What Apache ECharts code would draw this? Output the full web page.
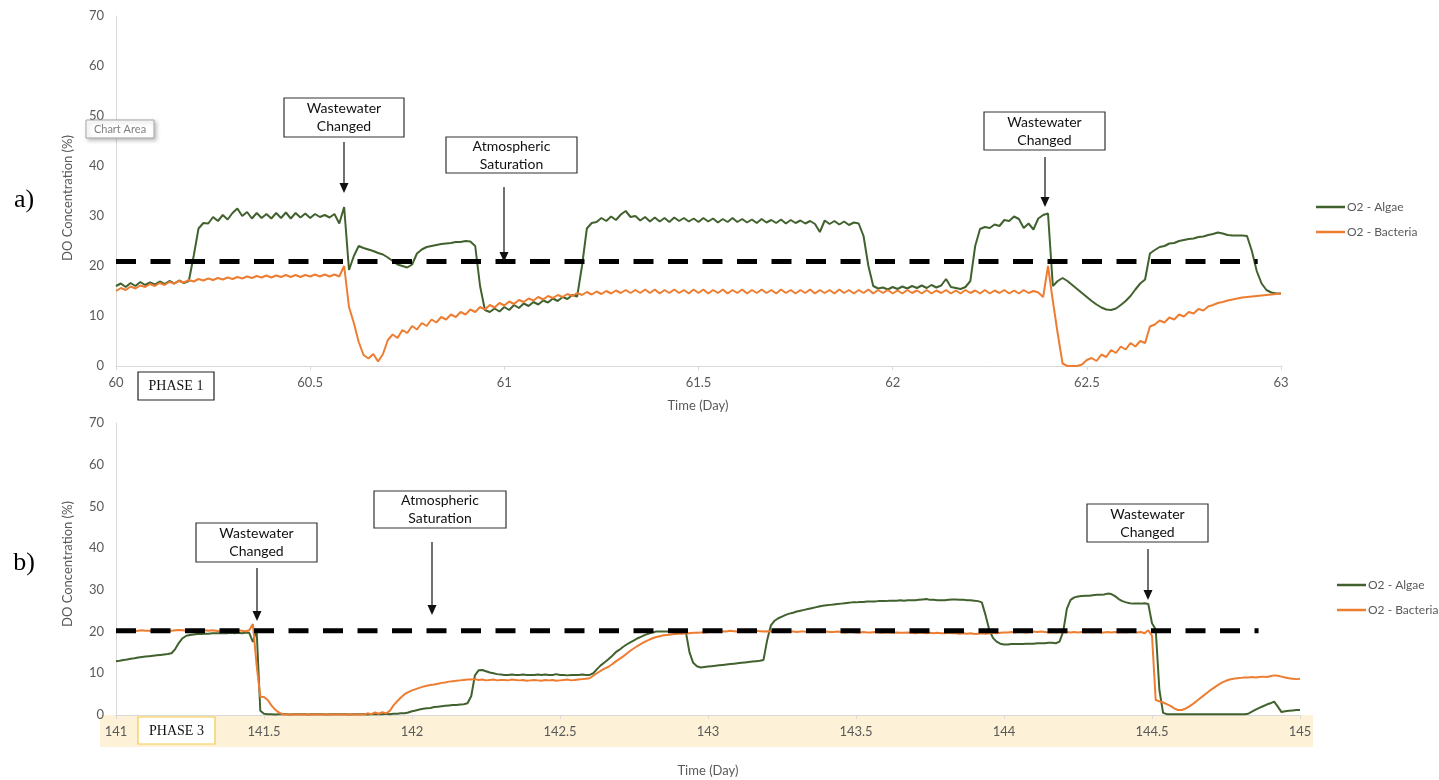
<!DOCTYPE html>
<html>
<head>
<meta charset="utf-8">
<title>DO Concentration – Phase 1 and Phase 3</title>
<script src="https://cdn.jsdelivr.net/npm/echarts@6/dist/echarts.min.js"></script>
<style>
  html, body { margin: 0; padding: 0; background: #ffffff; }
  #chart { width: 1439px; height: 780px; }
</style>
</head>
<body>
<div id="chart"></div>
<script>
// Logger samples every 18 minutes (1/80 day).
const SAMPLE_STEP = 1 / 80;
const PHASE1_START = 60;
const PHASE3_START = 141;

// Phase 1 (days 60–63), DO concentration (%)
const algaePhase1 = [
  16.0, 16.5, 15.8, 16.6, 16.0, 16.8, 16.2, 16.7, 16.3, 16.9, 16.4, 17.0, 16.5, 17.1, 16.6, 17.0,
  22.0, 27.5, 28.6, 28.5,
  29.8, 29.0, 30.2, 29.3, 30.6, 31.5, 30.0, 30.8, 29.5, 30.6, 29.6, 30.4, 29.5, 30.6, 29.6, 30.7,
  29.5, 30.6, 29.7, 30.5, 29.6, 30.4, 29.8, 30.2, 29.7, 30.4, 28.5, 31.8,
  19.2, 22.0, 24.0, 23.6, 23.3, 23.0, 22.6, 22.3, 21.7, 21.0, 20.3, 20.0, 19.7, 20.3,
  22.5, 23.3, 23.8, 24.0, 24.2, 24.4, 24.5, 24.6, 24.8, 24.8, 25.0, 24.9, 24.0,
  16.0, 11.2, 10.8, 11.5, 10.9, 11.8, 11.2, 12.2, 11.6, 12.5, 12.0, 12.8, 12.3, 13.1, 12.7, 13.5,
  13.0, 13.8, 13.4, 14.2, 13.9,
  20.0, 27.5, 28.6, 28.8, 29.6, 29.0, 29.9, 29.2, 30.3, 31.0, 29.8, 30.0, 29.1, 29.8, 28.9, 29.7, 28.9,
  29.6, 28.8, 29.7, 29.0, 29.6, 28.9, 29.5, 28.8, 29.6, 28.9, 29.5, 28.7, 29.4, 28.8, 29.6, 28.8,
  29.4, 28.7, 29.3, 28.6, 29.4, 28.7, 29.2, 28.6, 29.3, 28.5, 29.2, 28.6, 29.1, 28.5, 29.0, 28.4,
  26.8, 29.1, 28.4, 29.0, 28.3, 28.9, 28.2, 28.7, 28.5,
  26.0, 20.0,
  16.0, 15.5, 15.7, 15.3, 15.8, 15.4, 15.9, 15.5, 16.0, 15.6, 16.1, 15.6, 16.2, 15.7, 16.1, 17.4, 15.8,
  15.6, 15.4, 15.8,
  17.0, 24.0, 27.4, 27.8, 27.6, 28.3, 28.0, 29.2, 29.0, 29.9, 29.4, 27.6, 28.5, 27.3, 29.5, 30.2, 30.5,
  16.0, 17.0, 17.6, 17.0, 16.2, 15.4, 14.6, 13.8, 13.0, 12.3, 11.7, 11.3, 11.2, 11.5, 12.2, 13.0,
  14.0, 15.3, 16.5, 17.3,
  22.5, 23.2, 23.8, 24.0, 24.5, 24.6, 25.0, 25.2, 25.4, 25.5, 25.8, 25.9, 26.2, 26.4, 26.7, 26.5,
  26.2, 26.1, 26.1, 26.1, 26.0,
  23.0, 19.0, 16.5, 15.2, 14.7, 14.5, 14.5
];

const bacteriaPhase1 = [
  15.0, 15.6, 15.2, 15.9, 15.5, 16.1, 15.8, 16.4, 16.0, 16.6, 16.2, 16.8, 16.5, 17.0, 16.7, 17.2,
  16.9, 17.4, 17.1, 17.5, 17.2, 17.6, 17.3, 17.7, 17.4, 17.8, 17.5, 17.9, 17.6, 18.0, 17.7, 18.1,
  17.7, 18.1, 17.8, 18.2, 17.8, 18.2, 17.8, 18.2, 17.9, 18.3, 17.9, 18.3, 17.9, 18.3, 17.9,
  20.0, 11.8, 8.6, 4.8, 2.2, 1.5, 2.4, 0.9, 2.4, 5.2, 6.3, 5.6, 7.2, 6.6, 8.0, 7.3,
  8.6, 8.0, 9.3, 8.7, 9.8, 9.3, 10.3, 9.8, 10.8, 10.3, 11.3, 10.8, 11.8, 11.3, 12.2, 11.7,
  12.6, 12.1, 12.9, 12.4, 13.2, 12.8, 13.5, 13.1, 13.8, 13.3, 14.0, 13.6, 14.2, 13.8, 14.4, 14.0, 14.6,
  14.2, 14.8, 14.3, 14.9, 14.4, 15.0, 14.5, 15.1, 14.6, 15.2, 14.6, 15.2, 14.6, 15.3,
  14.6, 15.3, 14.5, 15.2, 14.6, 15.3, 14.6, 15.2, 14.5, 15.3,
  14.6, 15.3, 14.5, 15.2, 14.6, 15.3, 14.5, 15.2, 14.6, 15.3,
  14.5, 15.2, 14.6, 15.3, 14.6, 15.2, 14.5, 15.3, 14.6, 15.2,
  14.5, 15.2, 14.6, 15.3, 14.5, 15.2, 14.6, 15.2, 14.5, 15.3,
  14.6, 15.2, 14.5, 15.2, 14.6, 15.3, 14.5, 15.2, 14.6, 15.2,
  14.5, 15.1, 14.5, 15.2, 14.6, 15.1, 14.5, 15.2, 14.5, 15.1,
  14.6, 15.2, 14.5, 15.1, 14.5, 15.2, 14.6, 15.1, 14.5, 15.2,
  14.5, 15.1, 14.6, 15.2, 14.5, 15.1, 14.5, 15.2, 14.6, 15.0,
  14.7,
  13.8, 20.0, 13.0, 6.5, 0.5, 0.0, 0.0, 0.0, 0.3, 1.2, 1.6, 1.0, 2.3, 1.8, 3.2, 2.6,
  3.9, 3.3, 4.6, 3.9, 5.0, 4.6,
  7.9, 8.3, 9.1, 8.7, 9.7, 9.3, 10.3, 9.9, 10.8, 10.5, 11.4, 11.1, 11.9, 12.2, 12.6, 12.8,
  13.1, 13.3, 13.5, 13.7, 13.8, 13.9, 14.0, 14.1, 14.2, 14.3, 14.4, 14.5
];

// Phase 3 (days 141–145), DO concentration (%)
const algaePhase3 = [
  12.9, 13.0, 13.2, 13.3, 13.5, 13.6, 13.8, 13.9, 14.0, 14.1, 14.2, 14.3, 14.4, 14.5, 14.6, 14.8,
  15.8, 17.3, 18.4, 19.0, 19.2, 19.3, 19.4, 19.4, 19.5, 19.5, 19.6, 19.6, 19.6, 19.6, 19.6, 19.7,
  19.6, 19.7, 19.6, 19.7, 19.7,
  17.5, 20.5, 1.0, 0.3,
  0.2, 0.2, 0.1, 0.2, 0.2, 0.2, 0.1, 0.2, 0.2, 0.2,
  0.2, 0.1, 0.2, 0.2, 0.2, 0.2, 0.1, 0.2, 0.2, 0.2,
  0.2, 0.2, 0.1, 0.2, 0.2, 0.2, 0.2, 0.1, 0.2, 0.2,
  0.2, 0.2, 0.3, 0.2, 0.3, 0.3, 0.4, 0.4,
  0.6, 0.9, 1.1, 1.3, 1.5, 1.6, 1.7, 1.9, 2.0, 2.1, 2.2, 2.3, 2.4, 2.4, 2.5, 2.6, 2.8,
  4.5, 9.5, 10.7, 10.8, 10.5, 10.2, 10.0, 9.8, 9.7,
  9.6, 9.6, 9.7, 9.6, 9.6, 9.7, 9.6, 9.6, 9.6, 9.7, 9.6, 9.7, 9.6, 9.6, 9.8, 9.6,
  9.6, 9.5, 9.6, 9.6, 9.6, 9.7, 9.6, 9.6,
  10.0, 11.0, 11.9, 12.6, 13.3, 14.1, 15.0, 15.6, 16.3, 16.9, 17.4, 17.9, 18.4, 18.8, 19.2, 19.5,
  19.8, 20.0, 20.0, 20.0, 20.0, 20.0, 20.1, 20.1, 20.0, 20.0,
  15.0, 12.5, 11.7, 11.4, 11.5, 11.6, 11.7, 11.8, 11.9, 12.0, 12.1, 12.2, 12.3, 12.4, 12.5, 12.6,
  12.7, 12.8, 12.9, 13.0, 13.2,
  18.0, 21.5, 22.6, 23.2, 23.6, 24.0, 24.3, 24.5, 24.8, 25.0,
  25.2, 25.4, 25.6, 25.8, 26.0, 26.2, 26.3, 26.4, 26.5, 26.6,
  26.7, 26.8, 26.9, 27.0, 27.0, 27.1, 27.1, 27.2, 27.2, 27.2,
  27.3, 27.3, 27.3, 27.4, 27.4, 27.4, 27.5, 27.4, 27.5, 27.5,
  27.5, 27.6, 27.7, 27.8, 27.6, 27.6, 27.5, 27.5, 27.5, 27.6,
  27.7, 27.7, 27.6, 27.6, 27.5, 27.5, 27.4, 27.3, 27.0,
  24.0, 20.5, 18.5, 17.6, 17.1, 16.9, 16.9, 17.0, 17.0, 17.0, 17.0, 17.1, 17.1, 17.1, 17.2, 17.2,
  17.2, 17.3, 17.3, 17.2, 17.6,
  20.0, 25.5, 27.6, 28.2, 28.4, 28.5, 28.6, 28.6, 28.7, 28.8,
  28.8, 28.9, 29.1, 29.0, 28.5, 27.8, 27.3, 27.0, 26.8, 26.7,
  26.7, 26.7, 26.8, 26.6, 22.0, 20.5, 6.0, 0.5,
  0.2, 0.2, 0.2, 0.2, 0.2, 0.2, 0.2, 0.2, 0.2, 0.2, 0.2,
  0.2, 0.2, 0.2, 0.2, 0.2, 0.2, 0.2, 0.2, 0.2, 0.2, 0.2,
  0.3, 0.8, 1.3, 1.7, 2.1, 2.5, 2.8, 3.2, 2.0, 0.7, 0.9, 1.0, 1.1, 1.2, 1.2
];

const bacteriaPhase3 = [
  20.2, 20.1, 20.2, 20.3, 20.2, 20.1, 20.2, 20.3, 20.2, 20.2,
  20.1, 20.2, 20.3, 20.2, 20.1, 20.2, 20.3, 20.4, 20.3, 20.2,
  20.1, 20.2, 20.3, 20.4, 20.3, 20.2, 20.3, 20.2, 20.1, 20.2,
  20.3, 20.2, 20.2, 20.3, 20.2, 20.1, 20.3,
  21.8, 12.0, 4.4, 4.3, 3.6, 2.3, 1.3, 0.6, 0.2,
  0.1, 0.1, 0.1, 0.1, 0.1, 0.1, 0.1, 0.1, 0.1, 0.1, 0.1,
  0.1, 0.1, 0.1, 0.1, 0.1, 0.1, 0.1, 0.1, 0.1, 0.1, 0.1,
  0.4, 0.2, 0.6, 0.3, 0.7, 0.4,
  1.0, 2.3, 3.3, 4.2, 5.0, 5.5, 5.9, 6.2, 6.5, 6.8, 7.0, 7.2, 7.3, 7.5, 7.7, 7.8,
  8.0, 8.1, 8.2, 8.3, 8.4, 8.5, 8.5,
  8.6, 8.4, 8.5, 8.3, 8.4, 8.5, 8.3, 8.4, 8.4, 8.3, 8.5, 8.4, 8.3, 8.4, 8.2, 8.3,
  8.4, 8.3, 8.2, 8.4, 8.3, 8.4, 8.2, 8.3, 8.4, 8.5, 8.3, 8.4, 8.5, 8.6, 8.7, 8.8,
  9.4, 10.0, 10.6, 11.1, 11.5, 12.1, 12.8, 13.4, 14.0, 14.7, 15.4, 16.0, 16.6, 17.1, 17.6, 18.0,
  18.4, 18.7, 18.9, 19.1, 19.2, 19.3, 19.4, 19.5, 19.5, 19.6, 19.6, 19.7, 19.7, 19.8, 19.8, 19.9,
  19.9, 20.0, 20.0, 20.1, 20.0, 20.2, 20.1, 20.0, 20.2, 20.3,
  20.2, 20.1, 20.2, 20.1, 20.0, 20.1, 20.0, 20.0, 20.1, 20.0,
  20.0, 20.1, 20.0, 19.9, 20.0, 20.0, 19.9, 20.0, 20.1, 20.0,
  19.9, 20.0, 19.9, 19.9, 20.0, 19.9, 19.8, 19.9, 19.9, 19.8,
  19.8, 19.9, 19.8, 19.8, 19.9, 19.8, 19.7, 19.8, 19.8, 19.7,
  19.8, 19.7, 19.7, 19.8, 19.7, 19.6, 19.7, 19.7, 19.6, 19.7,
  19.6, 19.7, 19.6, 19.6, 19.7, 19.6, 19.6, 19.5, 19.6, 19.5,
  19.6, 19.4, 19.5, 19.6, 19.5, 19.6, 19.7, 19.6, 19.7, 19.8,
  19.8, 19.9, 19.8, 19.9, 19.9, 19.8, 19.9, 20.0, 19.9, 20.0,
  19.9, 19.8, 19.9, 19.8, 19.9, 19.8, 19.9, 19.8, 19.9, 19.8,
  19.9, 19.8, 19.9, 19.8, 19.9, 19.8, 19.8, 19.9, 19.8, 19.9,
  19.8, 19.9, 19.8, 19.9, 19.9, 19.8, 19.9, 19.6,
  20.3, 19.0, 3.6, 3.3, 3.0, 2.6, 2.2, 1.6, 1.2, 1.2,
  1.5, 2.0, 2.6, 3.3, 4.0, 4.7, 5.4, 6.1, 6.7, 7.3,
  7.8, 8.2, 8.5, 8.7, 8.8, 8.9, 9.0, 9.0, 9.1, 9.0,
  9.1, 9.2, 9.1, 9.3, 9.5, 9.4, 9.2, 9.0, 8.8, 8.7,
  8.6, 8.7
];

// Atmospheric saturation reference lines: [start day, end day, level %]
const saturationPhase1 = [60, 62.94, 20.9];
const saturationPhase3 = [141, 144.86, 20.2];

const xTicksPhase1 = { min: 60, max: 63, step: 0.5 };
const xTicksPhase3 = { min: 141, max: 145, step: 0.5 };
const yTicks = { min: 0, max: 70, step: 10 };

const SERIES_NAMES = ['O2 - Algae', 'O2 - Bacteria'];
const GREEN = '#41622e';
const ORANGE = '#ed7d31';
const AXIS_GREY = '#d9d9d9';
const LABEL_GREY = '#595959';
const SANS = 'Lato, "Open Sans", sans-serif';
const SERIF = '"Liberation Serif", "DejaVu Serif", serif';

function toPairs(start, values) {
  return values.map((v, i) => [start + i * SAMPLE_STEP, v]);
}

function xAxisFor(gridIndex, ticks) {
  return {
    type: 'value', gridIndex,
    min: ticks.min, max: ticks.max, interval: ticks.step,
    axisLine: { show: true, lineStyle: { color: AXIS_GREY, width: 1 } },
    axisTick: { show: true, length: 4, lineStyle: { color: AXIS_GREY } },
    axisLabel: { color: LABEL_GREY, fontSize: 13, fontFamily: SANS, margin: 10 },
    splitLine: { show: false }
  };
}
function yAxisFor(gridIndex) {
  return {
    type: 'value', gridIndex,
    min: yTicks.min, max: yTicks.max, interval: yTicks.step,
    axisLine: { show: true, lineStyle: { color: AXIS_GREY, width: 1 } },
    axisTick: { show: false },
    axisLabel: { color: LABEL_GREY, fontSize: 13, fontFamily: SANS, margin: 12 },
    splitLine: { show: false }
  };
}

function dataLine(name, idx, start, values, color) {
  return {
    type: 'line', name, xAxisIndex: idx, yAxisIndex: idx,
    data: toPairs(start, values),
    symbol: 'none', silent: true,
    lineStyle: { color, width: 2 },
    itemStyle: { color },
    z: 3
  };
}
function saturationLine(idx, s) {
  return {
    type: 'line', name: 'Atmospheric Saturation', xAxisIndex: idx, yAxisIndex: idx,
    data: [[s[0], s[2]], [s[1], s[2]]],
    symbol: 'none', silent: true,
    lineStyle: { color: '#000000', width: 5, type: [20, 14.5], cap: 'butt' },
    z: 5
  };
}

// Callout: framed label with a downward arrow
function callout(box, text, arrow) {
  const [bx, by, bw, bh] = box;
  const [ax, ay0, ay1] = arrow;
  return [
    { type: 'rect', shape: { x: bx, y: by, width: bw, height: bh },
      style: { fill: '#ffffff', stroke: '#333333', lineWidth: 1.2 }, z: 20 },
    { type: 'text', x: bx + bw / 2, y: by + bh / 2, z: 21,
      style: { text, font: '14px ' + SANS, fill: '#111111', textAlign: 'center',
               textVerticalAlign: 'middle', lineHeight: 18 } },
    { type: 'line', shape: { x1: ax, y1: ay0, x2: ax, y2: ay1 - 8 },
      style: { stroke: '#111111', lineWidth: 1.2 }, z: 20 },
    { type: 'polygon', shape: { points: [[ax - 4.5, ay1 - 10], [ax + 4.5, ay1 - 10], [ax, ay1]] },
      style: { fill: '#111111' }, z: 20 }
  ];
}

function label(x, y, text, font, fill, extra) {
  return Object.assign({
    type: 'text', x, y, z: 20,
    style: { text, font, fill, textAlign: 'center', textVerticalAlign: 'middle' }
  }, extra || {});
}

const chart = echarts.init(document.getElementById('chart'), null, { renderer: 'canvas' });

const graphics = [
  // pale band behind the phase-3 day labels
  { type: 'rect', shape: { x: 100, y: 715, width: 1213, height: 32 },
    style: { fill: '#fdf2d8' }, z: -10 },

  label(24, 200, 'a)', '26px ' + SERIF, '#000000'),
  label(24, 563, 'b)', '26px ' + SERIF, '#000000'),

  label(68, 198, 'DO Concentration (%)', '13px ' + SANS, LABEL_GREY, { rotation: Math.PI / 2 }),
  label(68, 564, 'DO Concentration (%)', '13px ' + SANS, LABEL_GREY, { rotation: Math.PI / 2 }),
  label(698, 406, 'Time (Day)', '13px ' + SANS, LABEL_GREY),
  label(708, 771, 'Time (Day)', '13px ' + SANS, LABEL_GREY),

  // selection tag on the upper panel
  { type: 'rect', shape: { x: 86, y: 120, width: 68, height: 18 },
    style: { fill: '#ffffff', stroke: '#a6a6a6', lineWidth: 1,
             shadowBlur: 4, shadowOffsetX: 2, shadowOffsetY: 2, shadowColor: 'rgba(0,0,0,0.25)' }, z: 22 },
  label(120, 129.5, 'Chart Area', '11px ' + SANS, '#7f7f7f', { z: 23 }),

  // phase tags
  { type: 'rect', shape: { x: 138, y: 372, width: 76, height: 28 },
    style: { fill: '#ffffff', stroke: '#222222', lineWidth: 1.2 }, z: 20 },
  label(176, 386.5, 'PHASE 1', '14px ' + SERIF, '#111111', { z: 21 }),
  { type: 'rect', shape: { x: 138, y: 717, width: 77, height: 27 },
    style: { fill: '#ffffff', stroke: '#f2c94c', lineWidth: 1.2 }, z: 20 },
  label(176.5, 731, 'PHASE 3', '14px ' + SERIF, '#111111', { z: 21 })
]
  .concat(callout([284, 98, 120, 39], 'Wastewater\nChanged', [344, 142, 193]))
  .concat(callout([446, 137, 131, 36], 'Atmospheric\nSaturation', [504, 187, 262]))
  .concat(callout([984, 112, 121, 38], 'Wastewater\nChanged', [1045, 157, 207]))
  .concat(callout([196, 523, 121, 39], 'Wastewater\nChanged', [257, 568, 621]))
  .concat(callout([374, 491, 132, 37], 'Atmospheric\nSaturation', [432, 542, 615]))
  .concat(callout([1087, 504, 121, 38], 'Wastewater\nChanged', [1148, 549, 600]));

const legendBase = {
  data: SERIES_NAMES,
  orient: 'vertical',
  icon: 'rect',
  itemWidth: 29,
  itemHeight: 2.5,
  itemGap: 13,
  selectedMode: false,
  textStyle: { color: LABEL_GREY, fontSize: 12, fontFamily: SANS, padding: [0, 0, 0, -3] }
};

chart.setOption({
  animation: false,
  backgroundColor: '#ffffff',
  textStyle: { fontFamily: SANS },
  grid: [
    { left: 116, top: 16, width: 1165, height: 350 },
    { left: 116, top: 423, width: 1184, height: 292 }
  ],
  xAxis: [xAxisFor(0, xTicksPhase1), xAxisFor(1, xTicksPhase3)],
  yAxis: [yAxisFor(0), yAxisFor(1)],
  legend: [
    Object.assign({}, legendBase, { left: 1311, top: 196 }),
    Object.assign({}, legendBase, { left: 1332, top: 574 })
  ],
  series: [
    dataLine(SERIES_NAMES[0], 0, PHASE1_START, algaePhase1, GREEN),
    dataLine(SERIES_NAMES[1], 0, PHASE1_START, bacteriaPhase1, ORANGE),
    saturationLine(0, saturationPhase1),
    dataLine(SERIES_NAMES[0], 1, PHASE3_START, algaePhase3, GREEN),
    dataLine(SERIES_NAMES[1], 1, PHASE3_START, bacteriaPhase3, ORANGE),
    saturationLine(1, saturationPhase3)
  ],
  graphic: graphics
});
</script>
</body>
</html>
